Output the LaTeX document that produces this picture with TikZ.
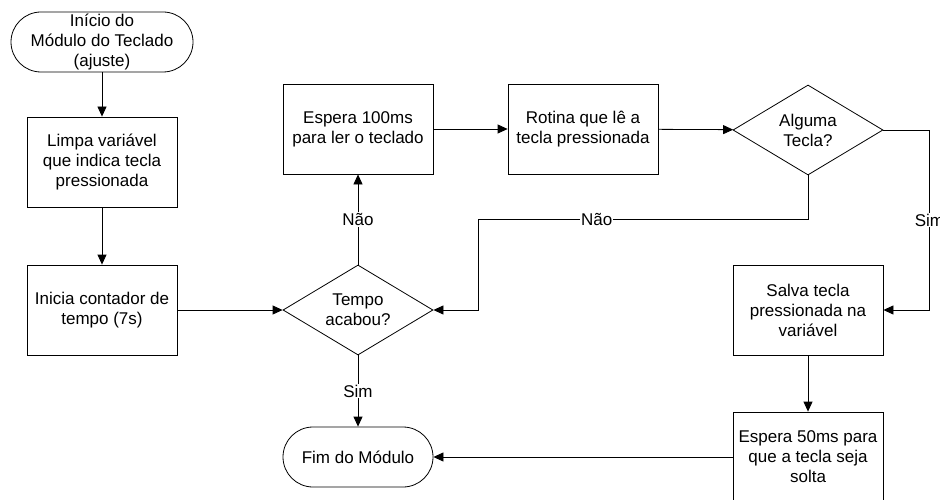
\documentclass[tikz,border=0pt]{standalone}
\usepackage{fontspec}
\setmainfont{Liberation Sans}
\usetikzlibrary{shapes.geometric,arrows.meta}
\tikzset{
  fluxo/.style={draw, line width=0.8pt, align=center,
                font=\fontsize{17}{20}\selectfont, inner sep=0pt},
  proc/.style={fluxo, rectangle, minimum width=150pt, minimum height=90pt},
  term/.style={fluxo, rectangle, rounded corners=30pt, minimum height=60pt},
  decisao/.style={fluxo, diamond, aspect=1.667, minimum width=150pt, minimum height=90pt},
  liga/.style={draw, line width=0.8pt, -{Triangle[length=10pt,width=9pt]}},
  rotulo/.style={fill=white, font=\fontsize{17}{20}\selectfont, inner sep=1pt},
}

\begin{document}
\begin{tikzpicture}[x=1pt, y=-1pt]
    \useasboundingbox (0,0) rectangle (940,500);
    \clip (0,0) rectangle (940,500);
    \node[term, minimum width=182pt] (inicio) at (102,42) {Início do\\Módulo do Teclado\\(ajuste)};
    \node[proc] (limpa) at (102,162) {Limpa variável\\que indica tecla\\pressionada};
    \node[proc] (conta) at (102,310) {Inicia contador de\\tempo (7s)};
    \node[decisao] (tempo) at (358,310) {Tempo\\acabou?};
    \node[proc] (esp1) at (358,129) {Espera 100ms\\para ler o teclado};
    \node[proc] (rotina) at (583,129) {Rotina que lê a\\tecla pressionada};
    \node[decisao] (alg) at (808,130) {Alguma\\Tecla?};
    \node[proc] (salva) at (808,310) {Salva tecla\\pressionada na\\variável};
    \node[proc] (esp2) at (808,457) {Espera 50ms para\\que a tecla seja\\solta};
    \node[term, minimum width=150pt] (fim) at (358,457) {Fim do Módulo};
    \draw[liga] (inicio) -- (limpa);
    \draw[liga] (limpa) -- (conta);
    \draw[liga] (conta) -- (tempo);
    \draw[liga] (tempo) -- node[rotulo] {Não} (esp1);
    \draw[liga] (tempo) -- node[rotulo] {Sim} (fim);
    \draw[liga] (esp1) -- (rotina);
    \draw[liga] (rotina) -- (alg);
    \draw[liga] (alg.east) -- ++(46,0) |- node[rotulo, pos=0.25] {Sim} (salva.east);
    \draw[liga] (alg.south) -- ++(0,44) -- node[rotulo, pos=0.64] {Não} ++(-330,0) |- (tempo.east);
    \draw[liga] (salva) -- (esp2);
    \draw[liga] (esp2) -- (fim);
  \end{tikzpicture}
\end{document}
